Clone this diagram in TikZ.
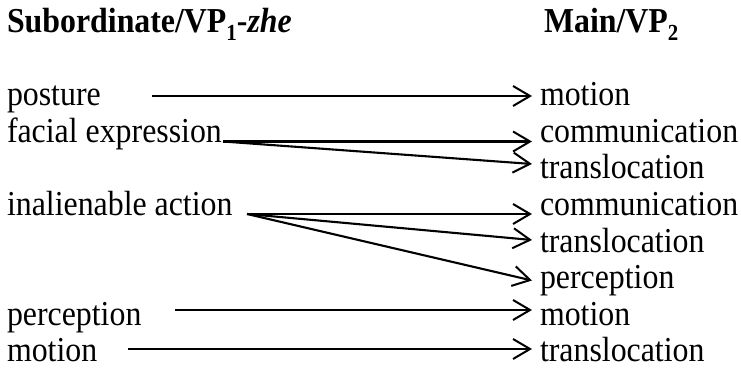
\documentclass[tikz,border=0pt]{standalone}
\usepackage{fontspec}
\setmainfont{Liberation Serif}[FakeStretch=0.91]
\usetikzlibrary{arrows.meta}
\tikzset{
  lbl/.style={anchor=base west, inner sep=0pt, outer sep=0pt, font=\fontsize{35}{40}\selectfont},
  hdr/.style={anchor=base west, inner sep=0pt, outer sep=0pt, font=\fontsize{35}{40}\selectfont\bfseries},
  conn/.style={line width=2.1pt, -{Straight Barb[length=17pt,width=20pt,line width=2pt]}}
}
\newcommand{\subnum}[1]{\raisebox{-0.22em}{\fontsize{23}{23}\selectfont #1}}
\begin{document}
\begin{tikzpicture}[x=1pt,y=-1pt]
\useasboundingbox (0,0) rectangle (741,371);
% headers
\node[hdr] (h1) at (7,33) {Subordinate/VP\subnum{1}-\textit{zhe}};
\node[hdr] (h2) at (544,33) {Main/VP\subnum{2}};
% left column
\node[lbl] (l0) at (7,106) {posture};
\node[lbl] (l1) at (7,142.5) {facial expression};
\node[lbl] (l3) at (7,215.5) {inalienable action};
\node[lbl] (l6) at (7,325) {perception};
\node[lbl] (l7) at (7,361.5) {motion};
% right column
\node[lbl] (r0) at (540,106) {motion};
\node[lbl] (r1) at (540,142.5) {communication};
\node[lbl] (r2) at (540,179) {translocation};
\node[lbl] (r3) at (540,215.5) {communication};
\node[lbl] (r4) at (540,252) {translocation};
\node[lbl] (r5) at (540,288.5) {perception};
\node[lbl] (r6) at (540,325) {motion};
\node[lbl] (r7) at (540,361.5) {translocation};
% connector ends
\coordinate (s0) at (152,96);
\coordinate (s1) at (223,141.5);
\coordinate (s3) at (247,214);
\coordinate (s6) at (175,310);
\coordinate (s7) at (128,349);
\coordinate (e0) at (532,96);
\coordinate (e1) at (532,141.5);
\coordinate (e2) at (532,164);
\coordinate (e3) at (532,214);
\coordinate (e4) at (532,240);
\coordinate (e5) at (532,280.5);
\coordinate (e6) at (532,310);
\coordinate (e7) at (532,349);
% connectors
\draw[conn] (s0) -- (e0);
\draw[conn] (s1) -- (e1);
\draw[conn] (s1) -- (e2);
\draw[conn] (s3) -- (e3);
\draw[conn] (s3) -- (e4);
\draw[conn] (s3) -- (e5);
\draw[conn] (s6) -- (e6);
\draw[conn] (s7) -- (e7);
\end{tikzpicture}
\end{document}
